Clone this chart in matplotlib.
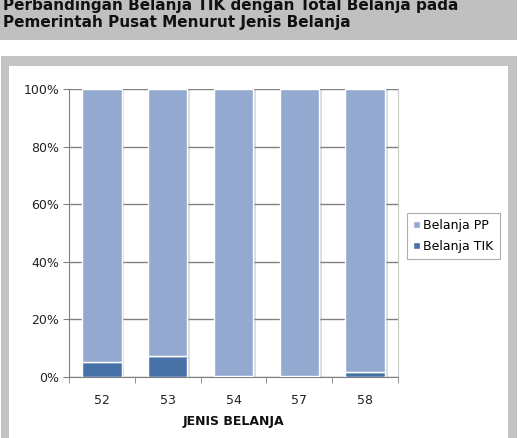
import matplotlib.pyplot as plt
import matplotlib.patheffects as pe
from matplotlib.patches import Rectangle
from matplotlib.ticker import FuncFormatter

categories = ['52', '53', '54', '57', '58']
belanja_tik = [5.3, 7.2, 0.3, 0.2, 1.8]
belanja_pp = [100 - v for v in belanja_tik]
yticks = [0, 20, 40, 60, 80, 100]

COL_PP = '#94a9d0'
COL_TIK = '#4672a8'
GRAY = '#c3c3c3'

W, H = 519, 438
fig = plt.figure(figsize=(W / 100, H / 100), dpi=100)

# title band and chart frame
fig.patches.append(Rectangle((0, 1 - 40 / H), 517 / W, 40 / H, transform=fig.transFigure,
                             facecolor='#c0c0c0', edgecolor='none', zorder=-2))
fig.patches.append(Rectangle((1 / W, 0), 516 / W, 1 - 56 / H, transform=fig.transFigure,
                             facecolor=GRAY, edgecolor='none', zorder=-2))
fig.patches.append(Rectangle((9 / W, 0), 499 / W, 1 - 66 / H, transform=fig.transFigure,
                             facecolor='white', edgecolor='none', zorder=-1))

fig.text(3 / W, 1 - 10 / H, 'Perbandingan Belanja TIK dengan Total Belanja pada',
         fontsize=11, fontweight='bold', color='#111111', va='baseline', ha='left')
fig.text(3 / W, 1 - 27 / H, 'Pemerintah Pusat Menurut Jenis Belanja',
         fontsize=11, fontweight='bold', color='#111111', va='baseline', ha='left')

ax = fig.add_axes([69 / W, (H - 377) / H, (398 - 69) / W, (377 - 89) / H], zorder=2)
ax.set_facecolor('white')

x = range(len(categories))
shadow = [pe.SimplePatchShadow(offset=(2, -1), shadow_rgbFace='#999999', alpha=0.35), pe.Normal()]
b1 = ax.bar(x, belanja_tik, width=0.6, color=COL_TIK, edgecolor='white', linewidth=1,
            label='Belanja TIK', zorder=3)
b2 = ax.bar(x, belanja_pp, width=0.6, bottom=belanja_tik, color=COL_PP, edgecolor='white',
            linewidth=1, label='Belanja PP', zorder=3)
for p in list(b1) + list(b2):
    p.set_path_effects(shadow)

ax.set_xlim(-0.5, len(categories) - 0.5)
ax.set_ylim(0, 100)
ax.set_yticks(yticks)
ax.yaxis.set_major_formatter(FuncFormatter(lambda v, _: f'{v:.0f}%'))
ax.yaxis.grid(True, color='#808080', linewidth=1)
ax.set_axisbelow(True)

ax.set_xticks(list(x))
ax.set_xticklabels(categories)
ax.set_xticks([i - 0.5 for i in range(len(categories) + 1)], minor=True)
ax.tick_params(axis='x', which='major', length=0, pad=12)
ax.tick_params(axis='x', which='minor', length=4, color='#808080')
ax.tick_params(axis='y', length=4, color='#808080', pad=3)
ax.tick_params(labelsize=9, labelcolor='#222222')

for s in ['left', 'bottom']:
    ax.spines[s].set_color('#808080')
ax.spines['top'].set_visible(False)
ax.spines['right'].set_color('#c8c8c8')

ax.set_xlabel('JENIS BELANJA', fontsize=9, fontweight='bold', color='#111111', labelpad=6)

handles, labels = ax.get_legend_handles_labels()
leg = fig.legend(handles[::-1], labels[::-1], loc='upper left',
                 bbox_to_anchor=(407 / W, 1 - 213 / H), fontsize=9, frameon=True,
                 fancybox=False, edgecolor='#999999', handlelength=0.5, handleheight=0.5,
                 handletextpad=0.3, borderpad=0.5, labelspacing=0.6, borderaxespad=0)
leg.get_frame().set_linewidth(0.8)
leg.set_zorder(3)
for h in leg.legend_handles:
    h.set_path_effects([])

fig.savefig('out.png', dpi=100)
